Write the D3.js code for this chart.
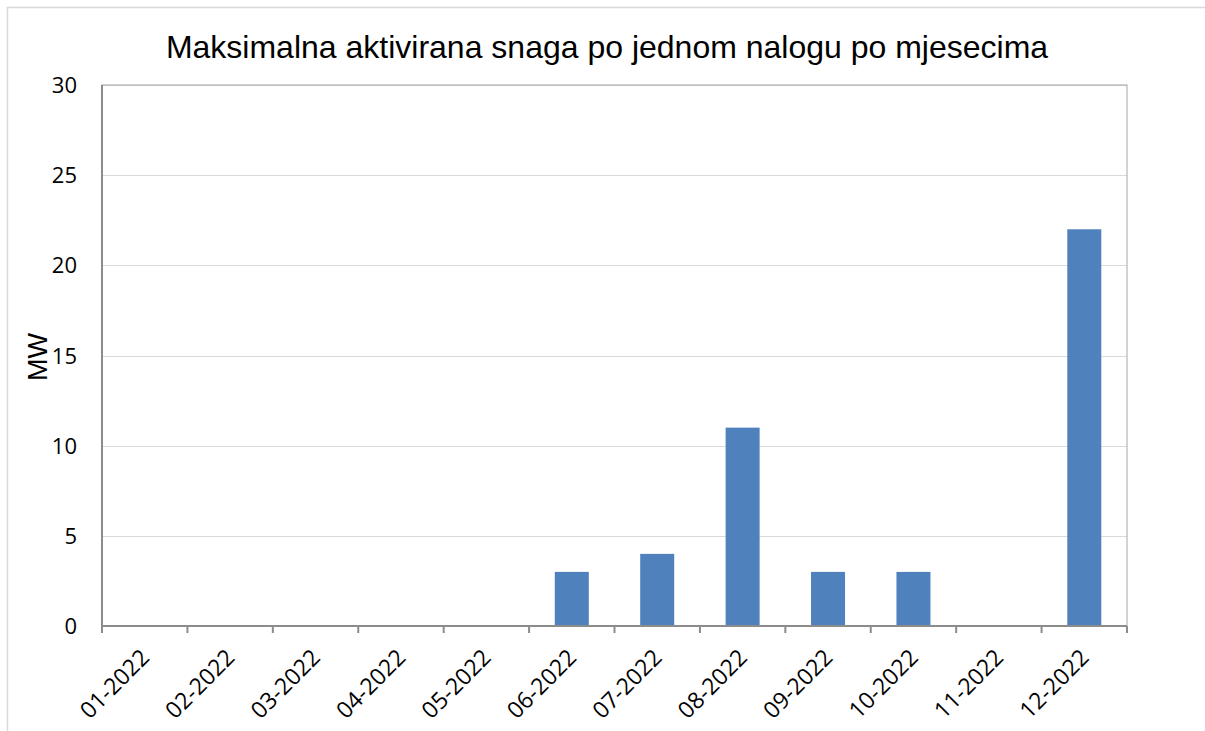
<!DOCTYPE html>
<html><head><meta charset="utf-8">
<script src="https://cdn.jsdelivr.net/npm/d3@7"></script>
<style>body{margin:0;background:#fff;}svg{display:block;}</style>
</head><body>
<svg id="c" width="1205" height="731"></svg>
<script>
const categories = ["01-2022","02-2022","03-2022","04-2022","05-2022","06-2022","07-2022","08-2022","09-2022","10-2022","11-2022","12-2022"];
const values = [0,0,0,0,0,3,4,11,3,3,0,22];
const yTicks = [0,5,10,15,20,25,30];
const title = "Maksimalna aktivirana snaga po jednom nalogu po mjesecima";
const yLabel = "MW";

const svg = d3.select("#c");
const m = {l:102, r:1127, t:85, b:626};
svg.append("rect").attr("x",7.5).attr("y",7.5).attr("width",1205).attr("height",740)
  .attr("fill","none").attr("stroke","#d9d9d9").attr("stroke-width",1.5);

const xb = d3.scaleBand().domain(categories).range([m.l,m.r]);
const y = d3.scaleLinear().domain([0,30]).range([m.b,m.t]);

svg.append("g").selectAll("line").data(yTicks.slice(1)).join("line")
  .attr("x1",m.l).attr("x2",m.r).attr("y1",d=>Math.round(y(d))+0.5).attr("y2",d=>Math.round(y(d))+0.5)
  .attr("stroke","#d9d9d9").attr("stroke-width",1);

svg.append("g").selectAll("rect").data(categories).join("rect")
  .attr("x",d=>xb(d)+xb.bandwidth()/2-17).attr("width",34)
  .attr("y",(d,i)=>y(values[i])).attr("height",(d,i)=>m.b-y(values[i]))
  .attr("fill","#4f81bd");

svg.append("rect").attr("x",m.l).attr("y",m.t).attr("width",m.r-m.l).attr("height",m.b-m.t)
  .attr("fill","none").attr("stroke","#a6a6a6").attr("stroke-width",1);
svg.append("line").attr("x1",m.l).attr("x2",m.r).attr("y1",m.b).attr("y2",m.b).attr("stroke","#8c8c8c").attr("stroke-width",2);
svg.append("line").attr("x1",m.l).attr("x2",m.l).attr("y1",m.t).attr("y2",m.b).attr("stroke","#8c8c8c").attr("stroke-width",2);

const bounds = categories.map(c=>xb(c)).concat([m.r]);
svg.append("g").selectAll("line").data(bounds).join("line")
  .attr("x1",d=>d).attr("x2",d=>d).attr("y1",m.b).attr("y2",m.b+7)
  .attr("stroke","#8c8c8c").attr("stroke-width",2);

svg.append("g").selectAll("text").data(yTicks).join("text")
  .attr("x",77).attr("y",d=>y(d)+8).attr("text-anchor","end")
  .attr("font-family","Open Sans, sans-serif").attr("font-size",22).attr("fill","#000")
  .text(d=>d);

svg.append("g").selectAll("text").data(categories).join("text")
  .attr("transform",d=>`translate(${xb(d)+xb.bandwidth()/2+6},${m.b+33}) rotate(-45)`)
  .attr("text-anchor","end")
  .attr("font-family","Open Sans, sans-serif").attr("font-size",23).attr("fill","#000")
  .text(d=>d);

svg.append("text").attr("x",607).attr("y",58).attr("text-anchor","middle")
  .attr("font-family","Liberation Sans, Arial, sans-serif").attr("font-size",32).attr("fill","#000")
  .text(title);

svg.append("text").attr("transform","translate(47,357) rotate(-90)").attr("text-anchor","middle")
  .attr("font-family","Liberation Sans, Arial, sans-serif").attr("font-size",27).attr("fill","#000")
  .text(yLabel);
</script>
</body></html>
